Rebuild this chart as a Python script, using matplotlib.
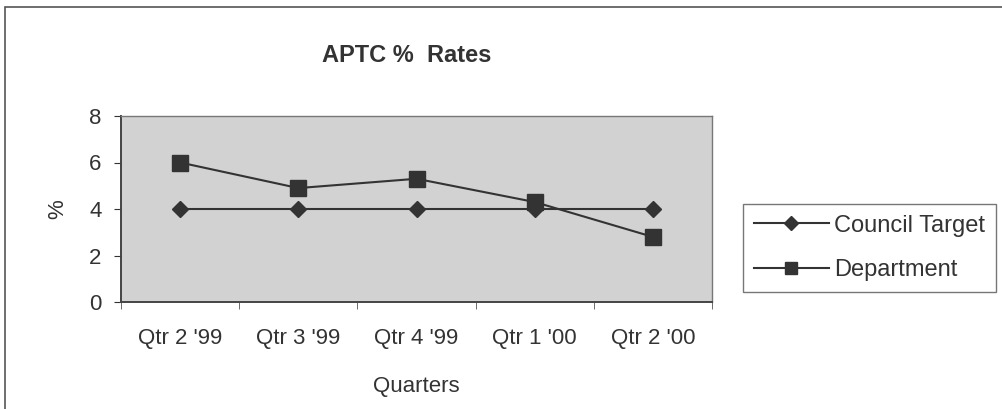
import numpy as np
import matplotlib
matplotlib.use("Agg")
import matplotlib.pyplot as plt
from matplotlib.patches import Rectangle

quarters = ["Qtr 2 '99", "Qtr 3 '99", "Qtr 4 '99", "Qtr 1 '00", "Qtr 2 '00"]
council_target = [4.0, 4.0, 4.0, 4.0, 4.0]
department = [6.0, 4.9, 5.3, 4.3, 2.8]

plt.rcParams['font.family'] = ['Liberation Sans', 'DejaVu Sans']
ink = '#333333'

fig = plt.figure(figsize=(10.02, 4.09), dpi=100)
fig.patches.append(Rectangle((5 / 1002, -0.1), 1.2, 1 - 7 / 409 + 0.1,
                             transform=fig.transFigure, fill=False,
                             edgecolor='#555555', linewidth=1.2))

ax = fig.add_axes([121 / 1002, 1 - 302 / 409, (712 - 121) / 1002, (302 - 116) / 409])
ax.set_facecolor('#d2d2d2')

x = np.arange(len(quarters))
ax.plot(x, council_target, color=ink, lw=1.5, marker='D', ms=8,
        label='Council Target')
ax.plot(x, department, color=ink, lw=1.5, marker='s', ms=11,
        label='Department')

ax.set_xlim(-0.5, len(quarters) - 0.5)
ax.set_ylim(0, 8)
ax.set_yticks([0, 2, 4, 6, 8])
ax.set_xticks(x)
ax.set_xticklabels(quarters)
ax.set_xticks(np.arange(len(quarters) + 1) - 0.5, minor=True)
ax.tick_params(axis='x', which='major', length=0, pad=19, labelsize=16, colors=ink)
ax.tick_params(axis='x', which='minor', length=5, color='#555555')
ax.tick_params(axis='y', length=5, pad=9, labelsize=16, colors=ink)

for side in ['top', 'right']:
    ax.spines[side].set_color('#777777')
    ax.spines[side].set_linewidth(1.0)
for side in ['left', 'bottom']:
    ax.spines[side].set_color('#444444')
    ax.spines[side].set_linewidth(1.4)

ax.set_xlabel('Quarters', fontsize=16, color=ink, labelpad=19)
ax.set_ylabel('%', fontsize=16, color=ink, labelpad=15)
fig.text(407 / 1002, 1 - 55 / 409, 'APTC %  Rates', ha='center', va='center',
         fontsize=17, fontweight='bold', color=ink)

leg = fig.legend(loc='upper left', bbox_to_anchor=(743 / 1002, 1 - 204 / 409),
                 frameon=True, fancybox=False, fontsize=17, handlelength=3.2,
                 borderpad=0.45, labelspacing=0.95, handletextpad=0.2,
                 borderaxespad=0)
leg.get_frame().set_edgecolor('#555555')
leg.get_frame().set_linewidth(1.0)
for t in leg.get_texts():
    t.set_color(ink)
for h, ms in zip(leg.legend_handles, [7, 8]):
    h.set_markersize(ms)

fig.savefig('out.png', dpi=100, facecolor='white')
